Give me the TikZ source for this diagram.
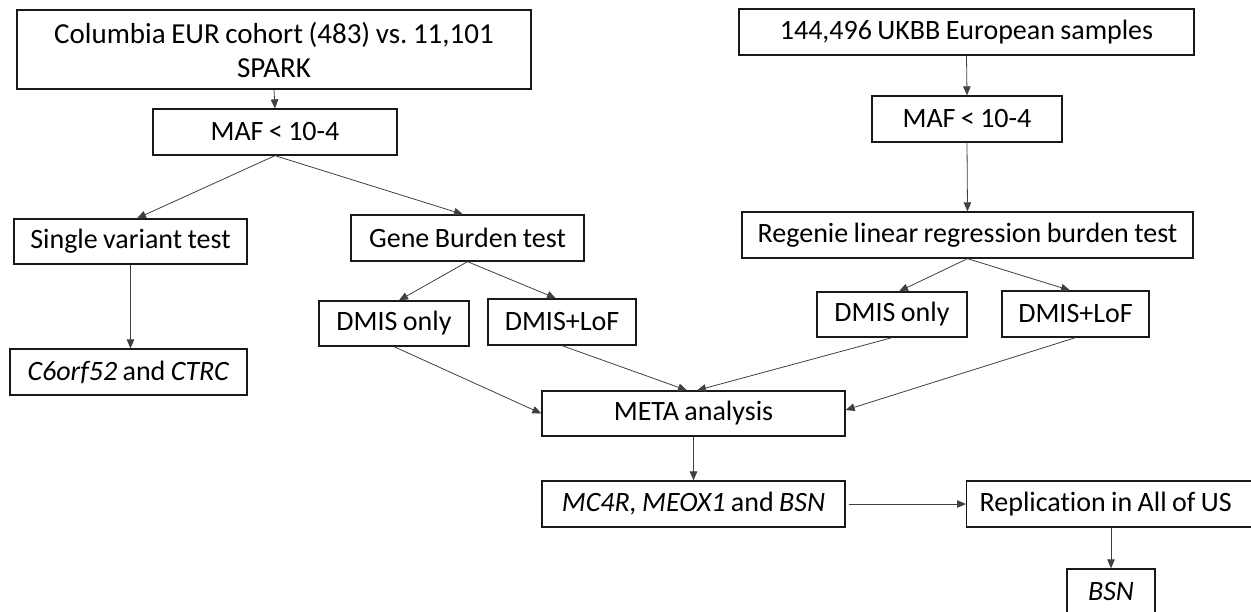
\documentclass[tikz,border=0pt]{standalone}
\usepackage{fontspec}
\setmainfont{Carlito}[Ligatures=NoCommon, WordSpace=0.85]
\frenchspacing
\usetikzlibrary{arrows.meta,calc}
\begin{document}
\begin{tikzpicture}[x=1pt,y=-1pt,
  box/.style={draw=black!90, line width=1.3pt, inner sep=0pt, align=center,
    font=\fontsize{28}{34}\selectfont\frenchspacing, text=black},
  conn/.style={draw=black!75, line width=0.8pt, -{Triangle[length=9pt,width=7.5pt]}}]
\useasboundingbox (0,0) rectangle (1251,611);
\clip (0,0) rectangle (1251,611);
% left branch
\node[box, minimum width=514pt, minimum height=79pt, font=\fontsize{29}{34}\selectfont\frenchspacing] (A) at (274,49.5) {Columbia EUR cohort (483) vs. 11,101\\SPARK};
\node[box, minimum width=244pt, minimum height=46pt] (maf1) at (275,132) {MAF < 10-4};
\node[box, minimum width=233pt, minimum height=45pt] (sv) at (130.5,241.5) {Single variant test};
\node[box, minimum width=237pt, minimum height=46pt] (c6) at (128.5,372) {\textit{C6orf52} and \textit{CTRC}};
\node[box, minimum width=233pt, minimum height=46pt] (gb) at (467.5,238) {Gene Burden test};
\node[box, minimum width=150pt, minimum height=45pt] (do1) at (394,323.5) {DMIS only};
\node[box, minimum width=148pt, minimum height=46pt] (dl1) at (562,322) {DMIS+LoF};
% right branch
\node[box, minimum width=455pt, minimum height=46pt] (uk) at (966.5,32) {144,496 UKBB European samples};
\node[box, minimum width=190pt, minimum height=46pt] (maf2) at (967,119) {MAF < 10-4};
\node[box, minimum width=451pt, minimum height=46pt] (reg) at (967.5,235) {Regenie linear regression burden test};
\node[box, minimum width=150pt, minimum height=45pt] (do2) at (892,314.5) {DMIS only};
\node[box, minimum width=147pt, minimum height=46pt] (dl2) at (1075.5,314) {DMIS+LoF};
% bottom
\node[box, minimum width=303pt, minimum height=45pt] (meta) at (693.5,413.5) {META analysis};
\node[box, minimum width=303pt, minimum height=46pt] (mc) at (693.5,504) {\textit{MC4R, MEOX1} and \textit{BSN}};
\node[box, anchor=west, minimum height=46pt, inner xsep=13pt, text width=270pt, align=flush left] (rep) at (966,504) {Replication in All of US};
\node[box, minimum width=88pt, minimum height=46pt] (bsn) at (1111,592) {\textit{BSN}};
% connectors
\draw[conn] (A.south) -- (maf1.north);
\draw[conn] (maf1.south) -- ([xshift=6.5pt]sv.north);
\draw[conn] (maf1.south) -- ([xshift=-4.5pt]gb.north);
\draw[conn] (sv.south) -- (sv.south |- c6.north);
\draw[conn] (gb.south) -- ([xshift=5pt]do1.north);
\draw[conn] (gb.south) -- ([xshift=-6pt]dl1.north);
\draw[conn] (do1.south) -- (meta.west);
\draw[conn] (dl1.south) -- ([xshift=-6.5pt]meta.north);
\draw[conn] (uk.south) -- (maf2.north);
\draw[conn] (maf2.south) -- (reg.north);
\draw[conn] (reg.south) -- ([xshift=7pt]do2.north);
\draw[conn] (reg.south) -- ([xshift=-5.5pt]dl2.north);
\draw[conn] (do2.south) -- ([xshift=3.5pt]meta.north);
\draw[conn] (dl2.south) -- ([yshift=3.5pt]meta.east);
\draw[conn] (meta.south) -- (mc.north);
\draw[conn] ([xshift=3pt]mc.east) -- (rep.west);
\draw[conn] (bsn.north |- rep.south) -- (bsn.north);
\end{tikzpicture}
\end{document}
